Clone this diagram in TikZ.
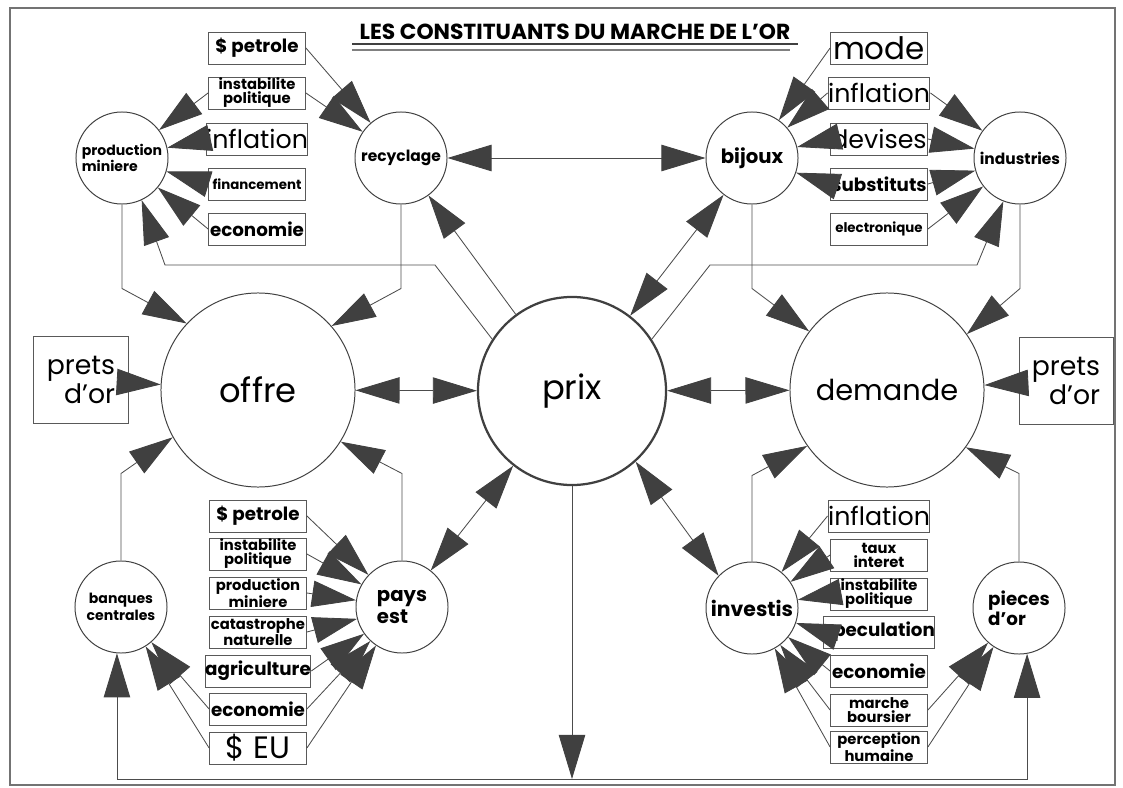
\documentclass[tikz,border=0pt]{standalone}
\usepackage{fontspec}
\setmainfont{Poppins}
\usetikzlibrary{arrows.meta, shapes}

\begin{document}
\begin{tikzpicture}[x=0.025cm, y=-0.025cm,
  >={Triangle[length=11mm,width=6.6mm,color=black!75]},
  link/.style={draw=black!70, line width=0.6pt},
  bubble/.style={circle, draw=black!75, line width=0.7pt, inner sep=0pt, minimum size=2.3cm, align=center, font=\bfseries\fontsize{11}{12}\selectfont},
  market/.style={circle, draw=black!75, line width=0.7pt, inner sep=0pt, minimum size=4.85cm, font=\fontsize{24}{28}\selectfont},
  factor/.style={draw=black!65, line width=0.7pt, minimum width=2.42cm, minimum height=0.8cm, inner sep=0pt, align=center},
  loan/.style={factor, minimum width=2.35cm, minimum height=2.17cm, align=right, font=\fontsize{19}{17}\selectfont},
  big/.style={font=\fontsize{18}{18}\selectfont},
  mid/.style={font=\bfseries\fontsize{13}{13}\selectfont},
  small/.style={font=\bfseries\fontsize{10.5}{10}\selectfont},
  tiny/.style={font=\bfseries\fontsize{9.5}{9}\selectfont}]
\useasboundingbox (0,0) rectangle (1123,788);
% Frame and title
\draw[black!55, line width=1.2pt] (10,8) rectangle (1115,785);
\node[font=\bfseries\fontsize{15.5}{16}\selectfont] (title) at (575,32) {LES CONSTITUANTS DU MARCHE DE L'OR};
\draw[black!75, line width=0.8pt] (352,44) -- (798,44);
\draw[black!50, line width=1pt] (352,50) -- (790,50);
% Markets
\node[market] (offre) at (258,390) {offre};
\node[market, minimum size=4.7cm, line width=1.6pt] (prix) at (572,391) {prix};
\node[market, font=\fontsize{20.5}{24}\selectfont] (demande) at (887,390) {demande};
% Actors
\node[bubble, align=left, font=\bfseries\fontsize{10}{11}\selectfont] (prodmin) at (122,158) {production\\miniere};
\node[bubble] (recyc) at (401,158) {recyclage};
\node[bubble, font=\bfseries\fontsize{14}{14}\selectfont] (bijoux) at (752,158) {bijoux};
\node[bubble] (indus) at (1020,158) {industries};
\node[bubble, font=\bfseries\fontsize{10}{12}\selectfont] (banques) at (121,607) {banques\\centrales};
\node[bubble, font=\bfseries\fontsize{14}{15}\selectfont, align=left] (paysest) at (402,607) {pays\\est};
\node[bubble, font=\bfseries\fontsize{14.5}{15}\selectfont] (investis) at (752,608) {investis};
\node[bubble, font=\bfseries\fontsize{13}{14}\selectfont, align=left] (pieces) at (1019,608) {pieces\\d'or};
% Factors, top
\node[factor, mid] (tlpetrole) at (257,48) {\$ petrole};
\node[factor, small] (tlinstab) at (257,93) {instabilite\\politique};
\node[factor, big] (tlinfl) at (257,139) {inflation};
\node[factor, tiny] (tlfin) at (257,184) {financement};
\node[factor, mid] (tleco) at (257,229) {economie};
\node[factor, font=\fontsize{22}{22}\selectfont] (mode) at (879,48) {mode};
\node[factor, big] (trinfl) at (879,93) {inflation};
\node[factor, big] (devises) at (879,139) {devises};
\node[factor, mid] (substituts) at (879,184) {substituts};
\node[factor, tiny] (electro) at (879,229) {electronique};
% Factors, bottom
\node[factor, mid] (blpetrole) at (258,516) {\$ petrole};
\node[factor, small] (blinstab) at (258,554) {instabilite\\politique};
\node[factor, small] (blprod) at (258,593) {production\\miniere};
\node[factor, small] (blcata) at (258,632) {catastrophe\\naturelle};
\node[factor, mid] (blagri) at (258,671) {agriculture};
\node[factor, mid] (bleco) at (258,709) {economie};
\node[factor, font=\fontsize{22}{22}\selectfont] (eu) at (258,748) {\$ EU};
\node[factor, big] (brinfl) at (879,516) {inflation};
\node[factor, small] (taux) at (879,555) {taux\\interet};
\node[factor, small] (brinstab) at (879,594) {instabilite\\politique};
\node[factor, mid] (specul) at (879,632) {speculation};
\node[factor, mid] (breco) at (879,671) {economie};
\node[factor, small] (marche) at (879,710) {marche\\boursier};
\node[factor, small] (percep) at (879,747) {perception\\humaine};
% Loans
\node[loan] (pretsL) at (81,380) {prets\\d'or};
\node[loan] (pretsR) at (1066,381) {prets\\d'or};
% Arrows into the markets
\draw[link, ->] (prodmin.south) -- ++(0,84) -- (offre.137);
\draw[link, ->] (recyc.south) -- ++(0,84) -- (offre.41);
\draw[link, ->] (bijoux.south) -- ++(0,84) -- (demande.143);
\draw[link, ->] (indus.south) -- ++(0,84) -- (demande.35);
\draw[link, ->] (banques.north) -- ++(0,-87) -- (offre.209);
\draw[link, ->] (paysest.north) -- ++(0,-87) -- (offre.328);
\draw[link, ->] (investis.north) -- ++(0,-86) -- (demande.215);
\draw[link, ->] (pieces.north) -- ++(0,-88) -- (demande.324);
\draw[link, ->] (pretsL) -- (offre);
\draw[link, ->] (pretsR) -- (demande);
% Price links
\draw[link, <->] (offre) -- (prix);
\draw[link, <->] (prix) -- (demande);
\draw[link, ->] (prix) -- (recyc);
\draw[link, <->] (prix) -- (bijoux);
\draw[link, <->] (prix) -- (paysest);
\draw[link, <->] (prix.312) -- (investis.136);
\draw[link, <->] (recyc) -- (bijoux);
\draw[link, ->] (prix.147) -- (435,265) -- (165,265) -- (prodmin.295);
\draw[link, ->] (prix.33) -- (710,265) -- (977,265) -- (indus.249);
\coordinate (base) at (572,779);
\draw[link, ->] (prix) -- (base);
\draw[link, ->] (base) -| (banques.265);
\draw[link, ->] (base) -| (pieces.280);
% Factor fans
\foreach \f in {tlinstab, tlinfl, tlfin, tleco} \draw[link, ->] (\f.west) -- (prodmin);
\foreach \f in {tlpetrole, tlinstab} \draw[link, ->] (\f.east) -- (recyc);
\foreach \f in {mode, trinfl, devises, substituts} \draw[link, ->] (\f.west) -- (bijoux);
\foreach \f in {trinfl, devises, substituts, electro} \draw[link, ->] (\f.east) -- (indus);
\foreach \f in {blpetrole, blinstab, blprod, blcata, blagri, bleco, eu} \draw[link, ->] (\f.east) -- (paysest);
\foreach \f in {bleco, eu} \draw[link, ->] (\f.west) -- (banques);
\foreach \f in {brinfl, taux, brinstab, specul, breco, marche, percep} \draw[link, ->] (\f.west) -- (investis);
\foreach \f in {marche, percep} \draw[link, ->] (\f.east) -- (pieces);
\end{tikzpicture}
\end{document}
